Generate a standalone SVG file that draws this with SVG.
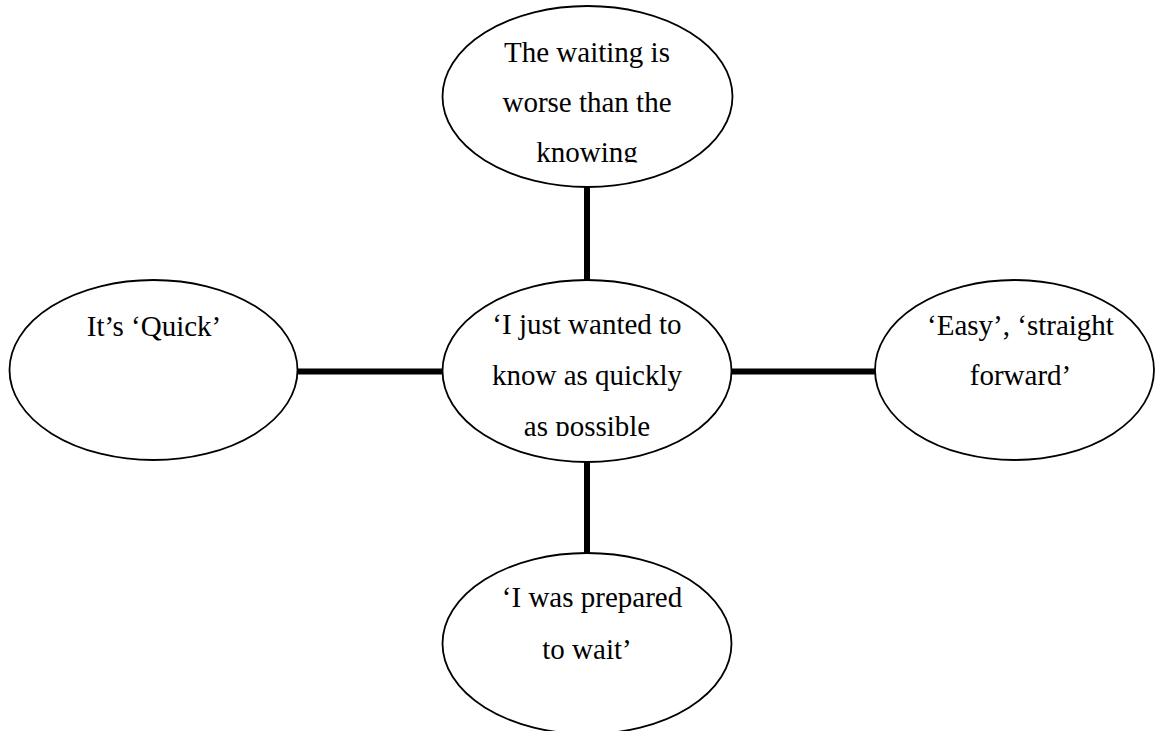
<svg xmlns="http://www.w3.org/2000/svg" width="1155" height="731" viewBox="0 0 1155 731">
  <style>
    .bubble { fill: #ffffff; stroke: #000000; stroke-width: 1.8; }
    .link { stroke: #000000; stroke-width: 6; fill: none; }
    .label { font-family: "Liberation Serif", "Times New Roman", serif; font-size: 29px; fill: #000000; text-anchor: middle; }
  </style>
  <defs>
    <!-- text boxes that cut off the last line at its baseline -->
    <clipPath id="clipTop"><rect x="440" y="0" width="300" height="162.5"/></clipPath>
    <clipPath id="clipCentre"><rect x="440" y="280" width="300" height="156"/></clipPath>
  </defs>
  <rect width="1155" height="731" fill="#ffffff"/>

  <g id="connectors">
    <line class="link" x1="587" y1="187" x2="587" y2="281"/>
    <line class="link" x1="297" y1="371.5" x2="444" y2="371.5"/>
    <line class="link" x1="731" y1="371.5" x2="876" y2="371.5"/>
    <line class="link" x1="587" y1="461" x2="587" y2="554"/>
  </g>

  <g id="node-waiting">
    <ellipse class="bubble" cx="587.5" cy="96.5" rx="145" ry="90.5"/>
    <g clip-path="url(#clipTop)">
      <text class="label" x="587" y="61.7">The waiting is</text>
      <text class="label" x="587" y="111.7">worse than the</text>
      <text class="label" x="587" y="161.7">knowing</text>
    </g>
  </g>

  <g id="node-quick">
    <ellipse class="bubble" cx="153.5" cy="370" rx="144" ry="90"/>
    <text class="label" x="154" y="336">It’s ‘Quick’</text>
  </g>

  <g id="node-centre">
    <ellipse class="bubble" cx="587" cy="371" rx="144.5" ry="91"/>
    <g clip-path="url(#clipCentre)">
      <text class="label" x="587" y="334">‘I just wanted to</text>
      <text class="label" x="587" y="385">know as quickly</text>
      <text class="label" x="587" y="435.5">as possible</text>
    </g>
  </g>

  <g id="node-easy">
    <ellipse class="bubble" cx="1014.5" cy="370" rx="139.5" ry="90"/>
    <text class="label" x="1020.5" y="335">‘Easy’, ‘straight</text>
    <text class="label" x="1020.5" y="385">forward’</text>
  </g>

  <g id="node-prepared">
    <ellipse class="bubble" cx="587" cy="643.5" rx="144.5" ry="90.5"/>
    <text class="label" x="592" y="606.7">‘I was prepared</text>
    <text class="label" x="587" y="659.3">to wait’</text>
  </g>
</svg>
